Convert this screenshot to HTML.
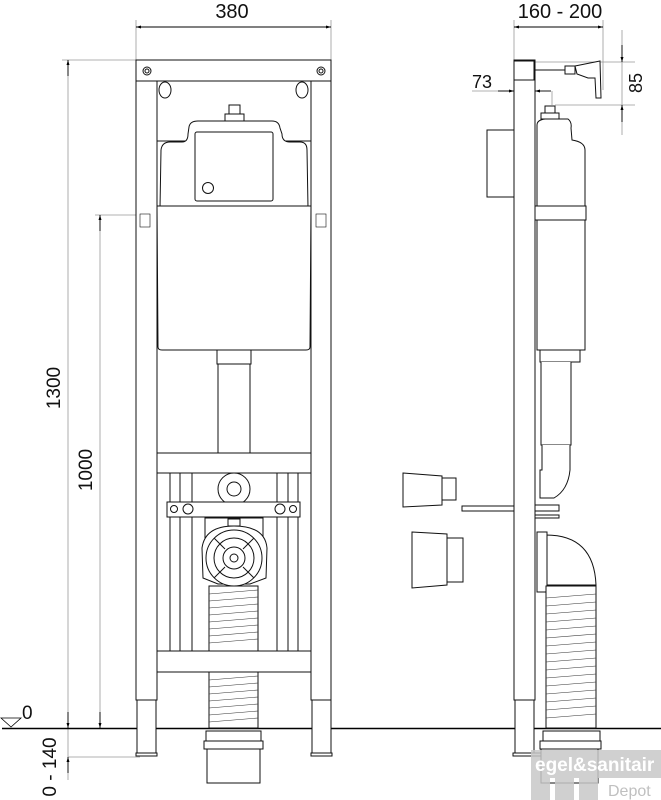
<!DOCTYPE html>
<html><head><meta charset="utf-8"><style>
html,body{margin:0;padding:0;background:#fff;}
svg{display:block;}
text{font-family:"Liberation Sans",sans-serif;fill:#111;}
</style></head><body>
<svg width="661" height="800" viewBox="0 0 661 800" xmlns="http://www.w3.org/2000/svg">
<defs>
<marker id="a" viewBox="0 0 10 10" refX="10" refY="5" markerWidth="10" markerHeight="5" orient="auto-start-reverse" markerUnits="userSpaceOnUse"><path d="M0,2 L10,5 L0,8 z" fill="#000"/></marker>
<marker id="av" viewBox="0 0 10 20" refX="5" refY="20" markerWidth="5" markerHeight="14" orient="0" markerUnits="userSpaceOnUse"><path d="M2,0 L5,20 L8,0 z" fill="#000"/></marker>
</defs>
<g stroke="#999" stroke-width="0.8" fill="none">
<!-- extension lines -->
<line x1="136" y1="20" x2="136" y2="60"/><line x1="331" y1="20" x2="331" y2="60"/>
<line x1="62" y1="60" x2="136" y2="60"/>
<line x1="95" y1="215" x2="137" y2="215"/>
<line x1="68" y1="60" x2="68" y2="780"/>
<line x1="100" y1="215" x2="100" y2="728"/>
<line x1="68" y1="757" x2="140" y2="757"/>
<line x1="514" y1="20" x2="514" y2="60"/><line x1="603" y1="20" x2="603" y2="90"/>
<line x1="535" y1="62" x2="635" y2="62"/>
<line x1="555" y1="105" x2="635" y2="105"/>
<line x1="472" y1="91" x2="520" y2="91"/>
<line x1="552" y1="91" x2="552" y2="105"/>
<line x1="622" y1="30" x2="622" y2="135"/>
</g>
<g stroke="#000" stroke-width="0.9" fill="none">
<line x1="136" y1="27" x2="331" y2="27" marker-start="url(#a)" marker-end="url(#a)"/>
<line x1="514" y1="27" x2="603" y2="27" marker-start="url(#a)" marker-end="url(#a)"/>
<line x1="68" y1="60" x2="68" y2="76" marker-start="url(#a)"/>
<line x1="68" y1="712" x2="68" y2="728" marker-end="url(#a)"/>
<line x1="100" y1="215" x2="100" y2="231" marker-start="url(#a)"/>
<line x1="100" y1="712" x2="100" y2="728" marker-end="url(#a)"/>
<line x1="68" y1="773" x2="68" y2="757" marker-end="url(#a)"/>
<line x1="498" y1="91" x2="514" y2="91" marker-end="url(#a)"/>
<line x1="551" y1="91" x2="535" y2="91" marker-end="url(#a)"/>
<line x1="622" y1="45" x2="622" y2="62" marker-end="url(#a)"/>
<line x1="622" y1="122" x2="622" y2="105" marker-end="url(#a)"/>
</g>
<text x="232" y="18" font-size="20" text-anchor="middle">380</text>
<text x="560" y="18" font-size="20" text-anchor="middle">160 - 200</text>
<text x="482" y="88" font-size="18" text-anchor="middle">73</text>
<text transform="translate(642,83) rotate(-90)" font-size="18" text-anchor="middle">85</text>
<text transform="translate(60,388) rotate(-90)" font-size="19" text-anchor="middle">1300</text>
<text transform="translate(92,470) rotate(-90)" font-size="19" text-anchor="middle">1000</text>
<text transform="translate(56,767) rotate(-90)" font-size="19" text-anchor="middle">0 - 140</text>
<text x="22" y="719" font-size="19">0</text>
<path d="M1,718 L21,718 L11,727 z" fill="none" stroke="#000" stroke-width="0.8"/>
<line x1="2" y1="728.5" x2="661" y2="728.5" stroke="#000" stroke-width="1.4"/>

<!-- FRONT VIEW -->
<g stroke="#111" stroke-width="1" fill="#fff">
<rect x="136" y="60" width="21" height="640"/>
<rect x="311" y="60" width="20" height="640"/>
<rect x="137" y="700" width="19" height="55"/>
<rect x="312" y="700" width="19" height="55"/>
<rect x="136" y="753" width="21" height="3"/>
<rect x="311" y="753" width="21" height="3"/>
<rect x="136" y="60" width="195" height="21"/>
<circle cx="147" cy="71" r="4"/><circle cx="147" cy="71" r="2"/>
<circle cx="321" cy="71" r="4"/><circle cx="321" cy="71" r="2"/>
<ellipse cx="165" cy="90" rx="6" ry="8"/><ellipse cx="302" cy="90" rx="6" ry="8"/>
<line x1="157" y1="141" x2="311" y2="141"/>
<path d="M160,208 L161,150 Q162,142 170,142 L182,142 Q188,142 188,134 L189,127 Q190,121 198,121 L272,121 Q279,121 280,128 L282,134 Q282,142 290,142 L300,142 Q307,142 307,150 L308,208 z"/>
<rect x="195" y="132" width="78" height="69" rx="2"/>
<circle cx="208" cy="188" r="5.5"/>
<rect x="225" y="114" width="19" height="7"/><rect x="229" y="105" width="11" height="9"/>
<path d="M157,206 L311,206 L310,347 Q310,350 306,350 L162,350 Q158,350 158,347 z"/>
<rect x="140" y="214" width="10" height="13" stroke-width="0.6"/>
<rect x="316" y="214" width="10" height="13" stroke-width="0.6"/>
<rect x="218" y="350" width="32" height="105"/>
<rect x="217" y="350" width="34" height="14"/>
<rect x="157" y="453" width="154" height="20"/>
<rect x="157" y="651" width="154" height="21"/>
<line x1="170" y1="473" x2="170" y2="651"/><line x1="180" y1="473" x2="180" y2="651"/>
<line x1="192" y1="473" x2="192" y2="651"/><line x1="288" y1="473" x2="288" y2="651"/>
<line x1="277" y1="473" x2="277" y2="651"/><line x1="298" y1="473" x2="298" y2="651"/>
<circle cx="234" cy="489" r="16"/><circle cx="234" cy="489" r="7"/>
<rect x="167" y="502" width="133" height="15"/>
<circle cx="174" cy="509" r="3.5"/><circle cx="188" cy="509" r="5"/>
<circle cx="280" cy="509" r="5"/><circle cx="293" cy="509" r="3.5"/>
<rect x="205" y="518" width="58" height="20"/>
<rect x="228" y="519" width="12" height="7"/>
<path d="M202,548 Q205,526 234,526 Q265,526 267,548 L266,578 L250,584 L218,584 L203,578 z"/>
<circle cx="234" cy="558" r="28"/><circle cx="234" cy="558" r="20"/><circle cx="234" cy="558" r="11"/><circle cx="234" cy="558" r="4"/>
<line x1="214" y1="538" x2="225" y2="549"/><line x1="254" y1="538" x2="243" y2="549"/>
<line x1="214" y1="578" x2="225" y2="567"/><line x1="254" y1="578" x2="243" y2="567"/>
<rect x="209" y="586" width="49" height="65"/>
<rect x="209" y="672" width="49" height="56"/>
<rect x="206" y="731" width="55" height="10"/>
<rect x="204" y="741" width="59" height="8"/>
<rect x="207" y="749" width="53" height="34"/>
</g>
<g stroke="#333" stroke-width="0.6">
<line x1="209" y1="594" x2="258" y2="590"/><line x1="209" y1="601" x2="258" y2="597"/><line x1="209" y1="608" x2="258" y2="604"/><line x1="209" y1="615" x2="258" y2="611"/><line x1="209" y1="622" x2="258" y2="618"/><line x1="209" y1="629" x2="258" y2="625"/><line x1="209" y1="636" x2="258" y2="632"/><line x1="209" y1="643" x2="258" y2="639"/>
<line x1="209" y1="680" x2="258" y2="676"/><line x1="209" y1="687" x2="258" y2="683"/><line x1="209" y1="694" x2="258" y2="690"/><line x1="209" y1="701" x2="258" y2="697"/><line x1="209" y1="708" x2="258" y2="704"/><line x1="209" y1="715" x2="258" y2="711"/><line x1="209" y1="722" x2="258" y2="718"/>
</g>

<!-- SIDE VIEW -->
<g stroke="#111" stroke-width="1" fill="#fff">
<rect x="514" y="60" width="21" height="640"/>
<rect x="515" y="700" width="19" height="55"/>
<rect x="513" y="753" width="62" height="3"/>
<rect x="514" y="61" width="20" height="19"/>
<line x1="535" y1="70" x2="565" y2="70"/><rect x="565" y="66" width="10" height="8"/>
<path d="M575,66 L600,61 L601,98 L596,98 L595,78 L588,78 L577,74 z"/>
<rect x="487" y="130" width="27" height="67"/>
<rect x="545" y="106" width="10" height="8"/><rect x="541" y="113" width="18" height="6"/>
<path d="M537,140 L537,125 Q537,120 545,119 L568,119 Q572,122 571,128 L572,140 Q585,142 585,150 L585,350 L537,350 z"/>
<rect x="535" y="206" width="51" height="14"/>
<rect x="540" y="350" width="40" height="12"/>
<path d="M541,362 L541,445 L571,445 L571,362"/>
<path d="M542,445 L542,470 L540,470 L540,498 L554,498 Q568,490 570,470 L570,445"/>
<rect x="462" y="506" width="52" height="5"/>
<rect x="535" y="505" width="24" height="6"/><rect x="535" y="515" width="24" height="3"/>
<path d="M403,473 L442,476 L442,505 L403,507 z"/><rect x="442" y="478" width="14" height="22"/>
<path d="M412,532 L447,534 L447,585 L412,588 z"/><rect x="447" y="538" width="16" height="44"/>
<path d="M546,535 Q594,535 596,585 L546,585 z"/>
<rect x="537" y="532" width="10" height="60"/>
<rect x="546" y="586" width="50" height="142"/>
<rect x="543" y="731" width="57" height="10"/>
<rect x="540" y="741" width="61" height="8"/>
<rect x="541" y="749" width="57" height="34"/>
</g>
<g stroke="#333" stroke-width="0.6">
<line x1="546" y1="598" x2="596" y2="594"/><line x1="546" y1="606" x2="596" y2="602"/><line x1="546" y1="614" x2="596" y2="610"/><line x1="546" y1="622" x2="596" y2="618"/><line x1="546" y1="630" x2="596" y2="626"/><line x1="546" y1="638" x2="596" y2="634"/><line x1="546" y1="646" x2="596" y2="642"/><line x1="546" y1="654" x2="596" y2="650"/><line x1="546" y1="662" x2="596" y2="658"/><line x1="546" y1="670" x2="596" y2="666"/><line x1="546" y1="678" x2="596" y2="674"/><line x1="546" y1="686" x2="596" y2="682"/><line x1="546" y1="694" x2="596" y2="690"/><line x1="546" y1="702" x2="596" y2="698"/><line x1="546" y1="710" x2="596" y2="706"/><line x1="546" y1="718" x2="596" y2="714"/>
</g>
<!-- watermark -->
<rect x="531" y="750" width="130" height="28" fill="#c8c8c8" opacity="0.85"/>
<text x="535" y="771" font-size="19" font-weight="bold" style="fill:#fff">egel&amp;sanitair</text>
<rect x="531" y="778" width="19" height="22" fill="#c8c8c8" opacity="0.85"/>
<rect x="555" y="778" width="19" height="22" fill="#c8c8c8" opacity="0.85"/>
<rect x="579" y="778" width="19" height="22" fill="#c8c8c8" opacity="0.85"/>
<text x="608" y="796" font-size="16" style="fill:#c0c0c0">Depot</text>
</svg>
</body></html>
